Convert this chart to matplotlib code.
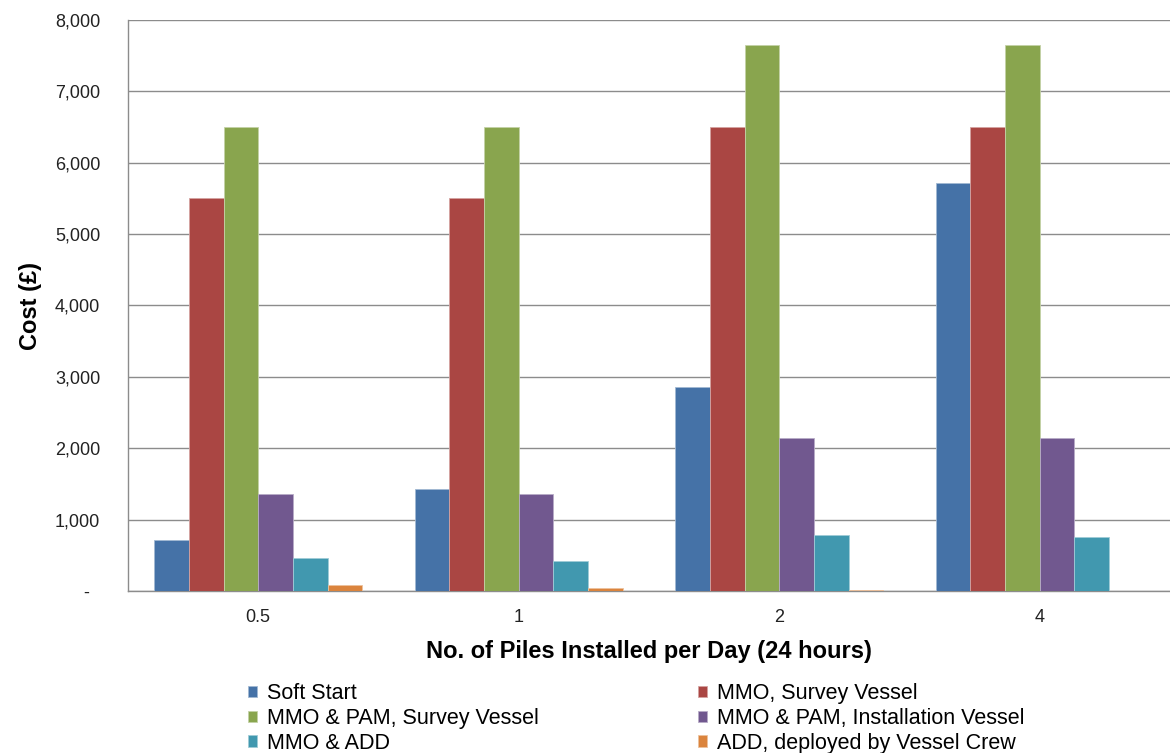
import matplotlib.pyplot as plt
import matplotlib.colors as mcolors
import numpy as np

plt.rcParams['font.family'] = ['Liberation Sans', 'DejaVu Sans']

#-----------Data------------
piles_per_day = ["0.5", "1", "2", "4"]
series_names = ["Soft Start", "MMO, Survey Vessel", "MMO & PAM, Survey Vessel",
                "MMO & PAM, Installation Vessel", "MMO & ADD", "ADD, deployed by Vessel Crew"]
soft_start = [714, 1428, 2857, 5714]
mmo_survey = [5500, 5500, 6500, 6500]
mmo_pam_survey = [6500, 6500, 7650, 7650]
mmo_pam_install = [1358, 1358, 2150, 2150]
mmo_add = [460, 420, 784, 756]
add_crew = [82, 42, 21, 0]
series_colors = ["#4572A7", "#AA4643", "#89A54E", "#71588F", "#4198AF", "#DB843D"]
y_ticks = [0, 1000, 2000, 3000, 4000, 5000, 6000, 7000, 8000]

values = [soft_start, mmo_survey, mmo_pam_survey, mmo_pam_install, mmo_add, add_crew]

#-----------Plot------------
fig = plt.figure(figsize=(11.7, 7.53), dpi=100)
ax = fig.add_axes([128/1170, 1 - 591/753, 1 - 128/1170, (591 - 20)/753])

x = np.arange(len(piles_per_day))
n = len(values)
width = 0.8 / n
handles = []
for i, (vals, name, col) in enumerate(zip(values, series_names, series_colors)):
    edge = mcolors.to_rgb(col)
    edge = tuple(0.5 * c + 0.5 for c in edge)  # lighter outline round each bar
    b = ax.bar(x - 0.4 + width * (i + 0.5), vals, width, color=col,
               edgecolor=edge, linewidth=0.6, label=name, zorder=3)
    handles.append(b)

ax.set_xlim(-0.5, len(piles_per_day) - 0.5)
ax.set_ylim(0, 8000)
ax.set_xticks(x)
ax.set_xticklabels(piles_per_day)
ax.set_yticks(y_ticks)
ax.set_yticklabels(["-  "] + [f"{v:,}" for v in y_ticks[1:]])
ax.tick_params(axis='y', length=0, pad=20, labelsize=13, colors='#222222')
ax.tick_params(axis='x', length=0, pad=13, labelsize=13, colors='#222222')

ax.grid(axis='y', color='#8c8c8c', linewidth=1, zorder=0)
for s in ['top', 'right']:
    ax.spines[s].set_visible(False)
for s in ['left', 'bottom']:
    ax.spines[s].set_color('#8c8c8c')
    ax.spines[s].set_linewidth(1)

ax.set_ylabel("Cost (£)", fontsize=17, fontweight='bold')
ax.yaxis.set_label_coords(-0.083, 0.5)
ax.set_xlabel("No. of Piles Installed per Day (24 hours)", fontsize=17,
              fontweight='bold', labelpad=10)

# legend filled row-wise: reorder since matplotlib fills columns first
order = [0, 2, 4, 1, 3, 5]
leg = fig.legend([handles[i] for i in order], [series_names[i] for i in order],
                 ncol=2, loc='upper left', bbox_to_anchor=(248/1170, 1 - 683/753),
                 frameon=False, fontsize=15.5, handlelength=0.42, handleheight=0.42,
                 handletextpad=0.45, labelspacing=0.18, columnspacing=7.4,
                 borderaxespad=0, borderpad=0)

fig.savefig("out.png", dpi=100)
